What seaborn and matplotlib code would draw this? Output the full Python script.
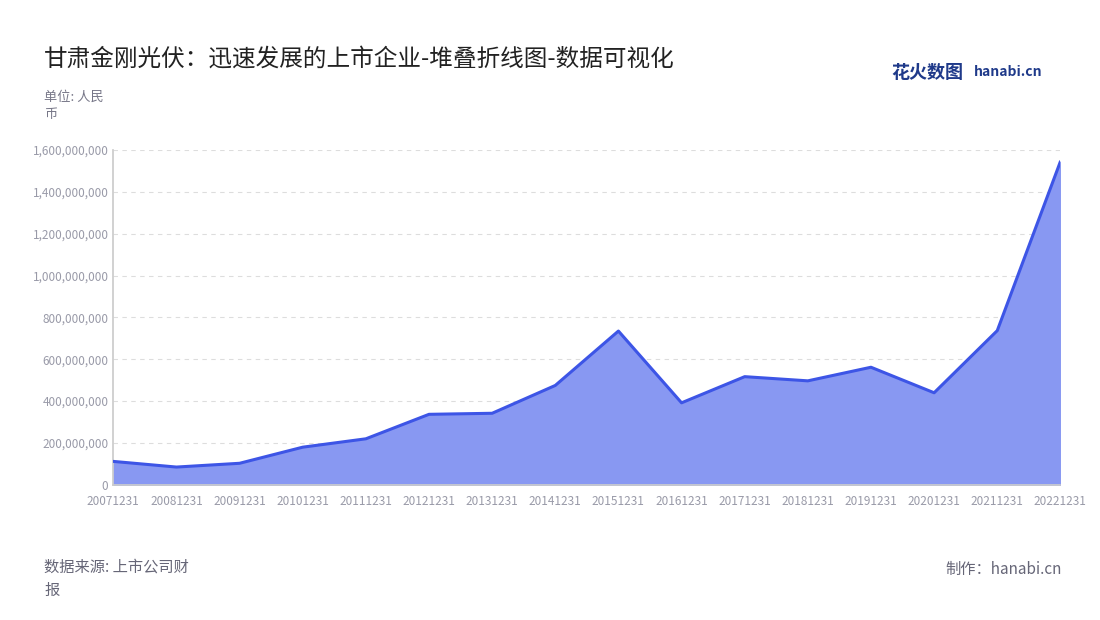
import matplotlib
matplotlib.use("Agg")
import matplotlib.pyplot as plt
import seaborn as sns
import pandas as pd
from matplotlib.ticker import FuncFormatter

years = ["20071231","20081231","20091231","20101231","20111231","20121231","20131231","20141231",
         "20151231","20161231","20171231","20181231","20191231","20201231","20211231","20221231"]
values = [112e6, 85e6, 103e6, 180e6, 220e6, 337e6, 342e6, 475e6,
          735e6, 392e6, 517e6, 497e6, 562e6, 440e6, 737e6, 1545e6]

sns.set_theme(style="white")
plt.rcParams['font.family'] = ['Noto Sans CJK SC', 'DejaVu Sans']

df = pd.DataFrame({"x": range(len(years)), "v": values})
fig = plt.figure(figsize=(11, 6.2), dpi=100)
ax = fig.add_axes([0.103, 0.218, 0.861, 0.54])
ax.fill_between(df["x"], df["v"], color="#8898f2", alpha=1, zorder=2)
sns.lineplot(data=df, x="x", y="v", ax=ax, color="#3d55e6", linewidth=2.2, zorder=3)
ax.set_xlim(0, len(years) - 1)
ax.set_ylim(0, 1.6e9)
ax.set_yticks([i * 2e8 for i in range(9)])
ax.yaxis.set_major_formatter(FuncFormatter(lambda v, p: f"{int(v):,}"))
ax.set_xticks(range(len(years)))
ax.set_xticklabels(years)
ax.tick_params(axis="both", labelsize=8.5, colors="#999aa8", length=0)
ax.tick_params(axis="x", length=4, color="#ccc")
ax.grid(axis="y", linestyle=(0, (4, 4)), color="#dddddd", linewidth=0.8, zorder=0)
ax.set_xlabel(""); ax.set_ylabel("")
for s in ["top", "right"]:
    ax.spines[s].set_visible(False)
ax.spines["left"].set_color("#cccccc")
ax.spines["bottom"].set_color("#cccccc")

fig.text(0.04, 0.895, "甘肃金刚光伏：迅速发展的上市企业-堆叠折线图-数据可视化", fontsize=17, color="#222222")
fig.text(0.04, 0.81, "单位: 人民\n币", fontsize=9.5, color="#777788", linespacing=1.4)
fig.text(0.04, 0.04, "数据来源: 上市公司财\n报", fontsize=11, color="#666677", linespacing=1.5)
fig.text(0.965, 0.075, "制作：hanabi.cn", fontsize=11, color="#666677", ha="right")
fig.text(0.81, 0.875, "花火数图", fontsize=13, color="#1f3a8a", fontweight="bold")
fig.text(0.885, 0.877, "hanabi.cn", fontsize=10, color="#1f3a8a", fontweight="bold")
fig.savefig("out.png", dpi=100)
